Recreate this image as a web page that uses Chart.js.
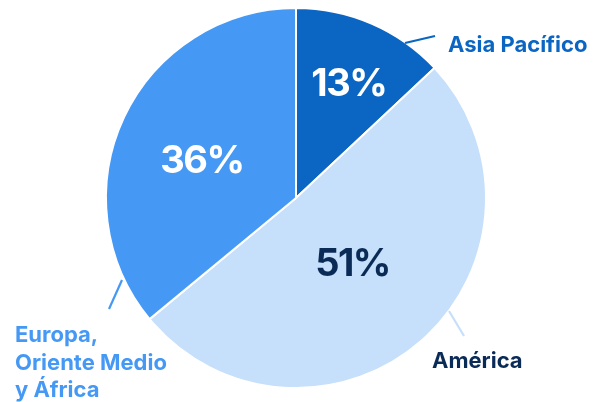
<!DOCTYPE html>
<html>
<head>
<meta charset="utf-8">
<script src="https://cdn.jsdelivr.net/npm/chart.js@4.4.1/dist/chart.umd.min.js"></script>
<style>
html,body{margin:0;padding:0;background:#fff;}
#wrap{width:596px;height:402px;position:relative;}
</style>
</head>
<body>
<div id="wrap"><canvas id="c" width="596" height="402"></canvas></div>
<script>
const regions = ["Asia Pacífico", "América", "Europa, Oriente Medio y África"];
const shares = [13, 51, 36];
const sliceColors = ["#0A66C2", "#C6DFFA", "#4599F5"];
const pctColors = ["#FFFFFF", "#0B2B57", "#FFFFFF"];
const labelColors = ["#0A66C2", "#0B2B57", "#4599F5"];
const lineColors = ["#0A66C2", "#C6DFFA", "#4599F5"];
const labelLines = [["Asia Pacífico"], ["América"], ["Europa,", "Oriente Medio", "y África"]];

const FONT = "Inter, 'Noto Sans', sans-serif";

const labelPlugin = {
  id: 'sliceLabels',
  afterDatasetsDraw(chart, args, opts) {
    const ctx = chart.ctx;
    const meta = chart.getDatasetMeta(0);
    meta.data.forEach((arc, i) => {
      const cx = arc.x, cy = arc.y, r = arc.outerRadius;
      const mid = (arc.startAngle + arc.endAngle) / 2;
      const rf = opts.pctRadius[i];
      const px = cx + Math.cos(mid) * r * rf + opts.pctShift[i][0];
      const py = cy + Math.sin(mid) * r * rf + opts.pctShift[i][1];
      ctx.save();
      ctx.font = "700 38px " + FONT;
      if ('letterSpacing' in ctx) ctx.letterSpacing = '-1.5px';
      ctx.fillStyle = pctColors[i];
      ctx.textAlign = 'center';
      ctx.textBaseline = 'middle';
      ctx.fillText(shares[i] + '%', px, py);
      if ('letterSpacing' in ctx) ctx.letterSpacing = '0px';
      // leader line
      const ln = opts.lines[i];
      ctx.strokeStyle = lineColors[i];
      ctx.lineWidth = 2.2;
      ctx.beginPath();
      ctx.moveTo(cx + ln[0], cy + ln[1]);
      ctx.lineTo(cx + ln[2], cy + ln[3]);
      ctx.stroke();
      // category label
      const lp = opts.labelPos[i];
      ctx.font = "700 22px " + FONT;
      ctx.fillStyle = labelColors[i];
      ctx.textAlign = 'left';
      ctx.textBaseline = 'alphabetic';
      labelLines[i].forEach((t, k) => {
        ctx.fillText(t, cx + lp[0], cy + lp[1] + k * 27.5);
      });
      ctx.restore();
    });
  }
};

new Chart(document.getElementById('c'), {
  type: 'pie',
  data: {
    labels: regions,
    datasets: [{
      data: shares,
      backgroundColor: sliceColors,
      borderColor: '#FFFFFF',
      borderWidth: 2
    }]
  },
  options: {
    responsive: false,
    animation: false,
    rotation: 0,
    layout: { padding: { top: 7, bottom: 13, left: 105, right: 109 } },
    plugins: {
      legend: { display: false },
      tooltip: { enabled: false },
      sliceLabels: {
        pctRadius: [0.66, 0.45, 0.53],
        pctShift: [[3, 2], [0, 2], [-3, 6]],
        lines: [[109, -155, 139, -162], [153, 113, 168, 138], [-174, 82, -187, 111]],
        labelPos: [[152, -146], [136, 170], [-281, 144]]
      }
    }
  },
  plugins: [labelPlugin]
});
</script>
</body>
</html>
